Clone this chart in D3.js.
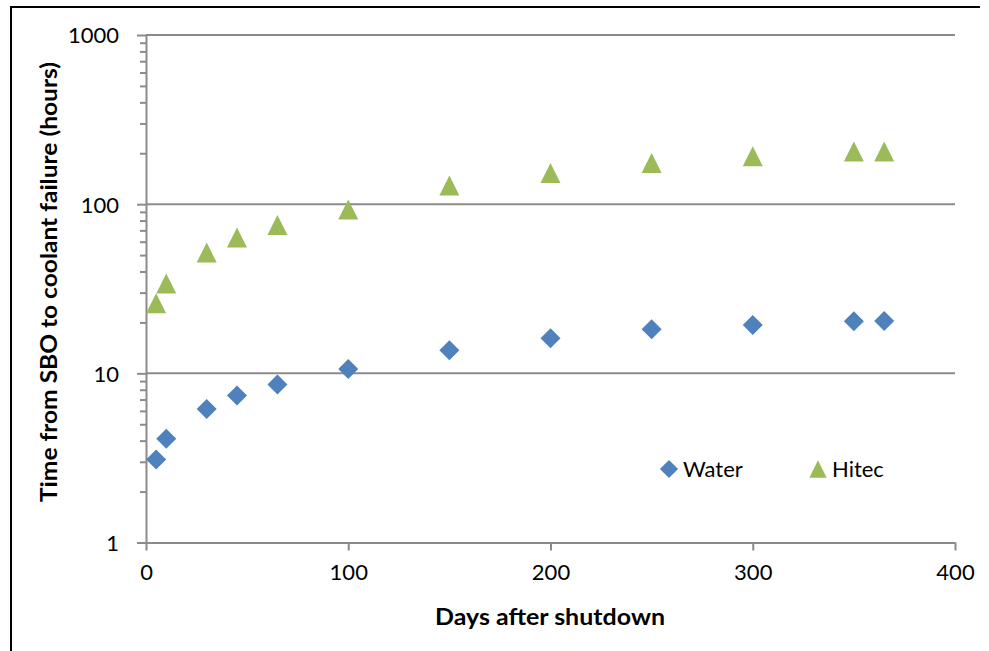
<!DOCTYPE html>
<html><head><meta charset="utf-8">
<script src="https://cdn.jsdelivr.net/npm/d3@7"></script>
<style>
html,body{margin:0;padding:0;background:#fff;}
svg{display:block;}
text{font-family:Lato,"Open Sans",sans-serif;fill:#000;}
</style></head>
<body>
<svg id="chart" width="989" height="651"></svg>
<script>
const days = [5, 10, 30, 45, 65, 100, 150, 200, 250, 300, 350, 365];
const water = [3.1, 4.1, 6.15, 7.4, 8.6, 10.6, 13.7, 16.1, 18.2, 19.3, 20.3, 20.4];
const hitec = [26, 34, 51.8, 63.5, 75.4, 93, 129, 153, 175, 192, 205, 205];
const seriesNames = ["Water", "Hitec"];
const xTicks = [0, 100, 200, 300, 400];
const yTicks = [1, 10, 100, 1000];
const xTitle = "Days after shutdown";
const yTitle = "Time from SBO to coolant failure (hours)";

const svg = d3.select("#chart");
const pLeft = 146, pRight = 955, pTop = 35, pBottom = 542.5;
const x = d3.scaleLinear().domain([0, 400]).range([pLeft, pRight]);
const y = d3.scaleLog().domain([1, 1000]).range([pBottom, pTop]);
const gridColor = "#8b8b8b";
const font = 'Lato,"Open Sans",sans-serif';

// frame (left and top edges of the chart border)
svg.append("line").attr("x1", 11).attr("x2", 11).attr("y1", 7).attr("y2", 651)
  .attr("stroke", "#000").attr("stroke-width", 2);
svg.append("line").attr("x1", 10).attr("x2", 980).attr("y1", 7).attr("y2", 7)
  .attr("stroke", "#000").attr("stroke-width", 2);

// gridlines
svg.append("g").selectAll("line").data(yTicks.slice(1)).join("line")
  .attr("x1", pLeft).attr("x2", pRight)
  .attr("y1", d => y(d)).attr("y2", d => y(d))
  .attr("stroke", gridColor).attr("stroke-width", 2);

// minor y ticks
const minor = [];
for (let dec = 1; dec < 1000; dec *= 10) for (let k = 2; k <= 9; k++) minor.push(dec * k);
svg.append("g").attr("transform", `translate(${pLeft},0)`)
  .call(d3.axisLeft(y).tickValues(minor).tickSize(6).tickFormat(""))
  .call(g => g.select(".domain").remove())
  .call(g => g.selectAll("line").attr("stroke", gridColor).attr("stroke-width", 2));

// major y axis
svg.append("g").attr("transform", `translate(${pLeft},0)`)
  .call(d3.axisLeft(y).tickValues(yTicks).tickSize(9).tickSizeOuter(0).tickPadding(18).tickFormat(d3.format("d")))
  .call(g => g.select(".domain").attr("stroke", gridColor).attr("stroke-width", 2))
  .call(g => g.selectAll("line").attr("stroke", gridColor).attr("stroke-width", 2))
  .call(g => g.selectAll("text").style("font-size", "22px").attr("fill", "#000")
    .style("font-family", font).attr("dy", "0.36em"));

// x axis
svg.append("g").attr("transform", `translate(0,${pBottom})`)
  .call(d3.axisBottom(x).tickValues(xTicks).tickSize(8).tickSizeOuter(0).tickPadding(14).tickFormat(d3.format("d")))
  .call(g => g.select(".domain").attr("stroke", gridColor).attr("stroke-width", 2))
  .call(g => g.selectAll("line").attr("stroke", gridColor).attr("stroke-width", 2))
  .call(g => g.selectAll("text").style("font-size", "22px").attr("fill", "#000")
    .style("font-family", font));

// symbols
const diamond = { draw(ctx, size) { const r = Math.sqrt(size) / 2; ctx.moveTo(0, -r); ctx.lineTo(r, 0); ctx.lineTo(0, r); ctx.lineTo(-r, 0); ctx.closePath(); } };
const tri = { draw(ctx, size) { const s = Math.sqrt(size); ctx.moveTo(0, -s / 2); ctx.lineTo(s / 2, s / 2); ctx.lineTo(-s / 2, s / 2); ctx.closePath(); } };
const blue = "#4f81bd", green = "#9bbb59";

svg.append("g").selectAll("path").data(days.map((d, i) => [d, hitec[i]])).join("path")
  .attr("transform", d => `translate(${x(d[0])},${y(d[1])})`)
  .attr("d", d3.symbol().type(tri).size(400)).attr("fill", green);
svg.append("g").selectAll("path").data(days.map((d, i) => [d, water[i]])).join("path")
  .attr("transform", d => `translate(${x(d[0])},${y(d[1])})`)
  .attr("d", d3.symbol().type(diamond).size(400)).attr("fill", blue);

// legend
const leg = [
  { name: seriesNames[0], type: diamond, color: blue, mx: 669, tx: 683 },
  { name: seriesNames[1], type: tri, color: green, mx: 818, tx: 832 }
];
const lg = svg.append("g");
leg.forEach(l => {
  lg.append("path").attr("transform", `translate(${l.mx},469)`)
    .attr("d", d3.symbol().type(l.type).size(l.type === tri ? 300 : 330)).attr("fill", l.color);
  lg.append("text").attr("x", l.tx).attr("y", 477).style("font-size", "22px").text(l.name);
});

// axis titles
svg.append("text").attr("x", 550).attr("y", 625).attr("text-anchor", "middle")
  .style("font-size", "22px").style("font-weight", "bold")
  .attr("textLength", 230).attr("lengthAdjust", "spacingAndGlyphs").text(xTitle);
svg.append("text").attr("transform", "translate(57,282) rotate(-90)").attr("text-anchor", "middle")
  .style("font-size", "22px").style("font-weight", "bold")
  .attr("textLength", 440).attr("lengthAdjust", "spacingAndGlyphs").text(yTitle);
</script>
</body></html>
